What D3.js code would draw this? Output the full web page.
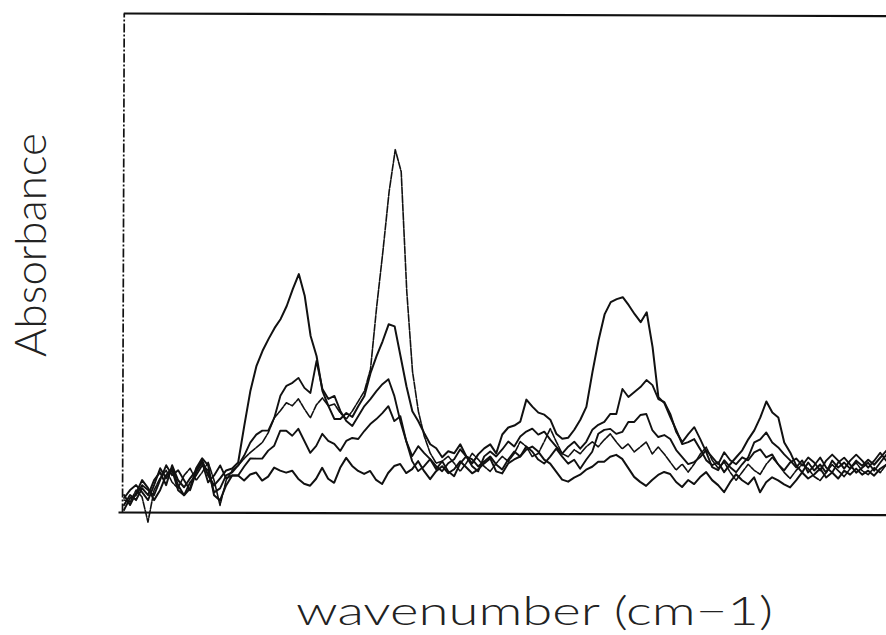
<!DOCTYPE html>
<html>
<head>
<meta charset="utf-8">
<script src="https://cdn.jsdelivr.net/npm/d3@7"></script>
<style>
  html, body { margin: 0; padding: 0; background: #fff; }
  svg { display: block; }
</style>
</head>
<body>
<svg id="chart" width="886" height="635"></svg>
<script>
// Five IR absorbance spectra sampled on a common, evenly spaced grid (128 points).
// Values are in arbitrary absorbance units (0 = baseline, 500 = top of frame).
const pointCount = 128;

// Spectrum with the tall, narrow band
const spectrumA = [
  12,10,22,15,-10,22,34,42,30,24,
  37,44,32,40,50,32,7,32,42,47,
  54,60,65,70,80,95,102,110,107,114,
  104,95,108,115,107,109,100,94,102,112,
  122,144,207,262,322,364,342,222,142,102,
  77,60,50,52,57,50,42,50,60,54,
  47,42,50,57,52,60,72,67,57,60,
  72,85,72,60,57,64,60,67,72,67,
  74,80,72,65,70,62,67,72,60,67,
  60,52,44,50,42,50,60,67,54,46,
  52,42,34,42,50,44,40,50,57,50,
  42,36,44,50,46,38,34,42,50,44,
  38,46,52,44,40,47,42,50
];

// Spectrum with the strongest broad bands
const spectrumB = [
  7,17,12,24,17,32,40,27,47,32,
  25,34,42,52,37,27,34,42,44,50,
  87,122,147,162,174,185,194,207,224,239,
  217,177,157,122,107,94,94,100,96,107,
  117,140,157,172,189,187,157,127,102,92,
  80,69,65,56,62,60,69,57,50,59,
  65,69,60,79,86,88,92,114,107,101,
  99,94,80,75,76,84,94,107,142,174,
  200,212,215,217,209,200,192,202,167,117,
  111,97,84,70,72,75,65,54,49,52,
  42,50,57,64,75,84,97,113,102,97,
  72,62,49,42,52,44,50,42,54,47,
  52,46,54,49,55,50,57,64
];

const spectrumC = [
  14,22,27,20,12,27,44,34,42,22,
  17,30,37,47,42,20,24,37,40,47,
  57,70,78,82,82,95,117,127,130,135,
  125,120,152,124,114,117,102,92,87,97,
  107,114,122,129,134,117,92,72,57,67,
  60,54,47,42,50,54,64,57,47,42,
  57,62,57,64,72,67,77,82,85,79,
  82,74,67,60,67,72,65,72,84,89,
  92,100,100,125,117,122,127,134,129,115,
  112,100,82,72,80,87,75,62,47,44,
  54,47,42,50,57,72,75,82,72,67,
  60,54,47,54,42,49,57,47,42,52,
  57,50,42,47,52,44,52,60
];

const spectrumD = [
  2,14,17,27,22,17,32,47,37,42,
  32,22,40,50,30,37,47,34,37,37,
  46,54,54,54,62,67,82,82,77,84,
  72,60,67,79,72,69,62,72,75,74,
  82,89,94,100,107,92,97,72,52,42,
  47,54,44,52,42,37,50,57,54,47,
  52,57,49,44,54,62,57,67,62,54,
  50,57,65,57,50,54,45,54,62,80,
  84,85,80,82,92,92,99,100,84,77,
  79,75,64,57,50,52,57,64,57,50,
  62,54,50,57,54,62,65,57,60,50,
  44,52,56,49,57,52,44,54,60,54,
  46,54,60,54,47,54,62,54
];

const spectrumE = [
  17,7,19,32,24,12,22,37,44,27,
  17,24,44,54,47,17,12,27,37,37,
  32,38,40,32,36,45,42,40,42,34,
  29,27,34,45,34,30,45,55,47,42,
  39,42,33,29,40,47,49,40,44,52,
  42,34,42,47,40,44,52,46,40,44,
  50,55,42,40,50,54,57,64,67,62,
  54,50,42,34,32,36,39,44,47,52,
  52,57,59,55,46,37,32,28,34,39,
  42,40,32,27,34,30,37,42,34,29,
  22,32,40,34,30,37,22,32,37,34,
  30,27,34,42,36,40,46,37,42,36,
  44,40,46,40,44,39,46,50
];

const spectra = [
  { name: "A", values: spectrumA, dash: "7,1.5", width: 1.6 },
  { name: "B", values: spectrumB, dash: null, width: 2.0 },
  { name: "C", values: spectrumC, dash: null, width: 1.9 },
  { name: "D", values: spectrumD, dash: null, width: 1.9 },
  { name: "E", values: spectrumE, dash: null, width: 2.0 }
];

const yLabel = "Absorbance";
const xLabel = "wavenumber (cm\u22121)";

// Layout
const frame = { left: 122, top: 13, bottom: 512, right: 905 };

const svg = d3.select("#chart");

const x = d3.scaleLinear().domain([0, pointCount - 1]).range([124, 886]);
const y = d3.scaleLinear().domain([0, 500]).range([frame.bottom, frame.top]);

// The plotted area sits very slightly tilted
const plot = svg.append("g")
  .attr("transform", `rotate(0.2, ${frame.left}, ${frame.bottom})`);

// Frame: bottom axis, left axis, top rule (no ticks)
plot.append("g")
  .attr("transform", `translate(0,${frame.bottom})`)
  .call(d3.axisBottom(d3.scaleLinear().domain([0, 1]).range([frame.left - 4, frame.right])).ticks(0).tickSizeOuter(0))
  .call(g => g.select(".domain").attr("stroke", "#111").attr("stroke-width", 2.2));

plot.append("g")
  .attr("transform", `translate(${frame.left},0)`)
  .call(d3.axisLeft(y).ticks(0).tickSizeOuter(0))
  .call(g => g.select(".domain")
    .attr("stroke", "#111")
    .attr("stroke-width", 1.7)
    .attr("stroke-dasharray", "9,2,2,2"));

plot.append("line")
  .attr("x1", frame.left).attr("x2", frame.right)
  .attr("y1", frame.top + 0.5).attr("y2", frame.top + 0.5)
  .attr("stroke", "#111")
  .attr("stroke-width", 2.2);

// Spectra
const line = d3.line()
  .x((d, i) => x(i))
  .y(d => y(d))
  .curve(d3.curveLinear);

plot.append("g")
  .selectAll("path")
  .data(spectra)
  .join("path")
  .attr("d", d => line(d.values))
  .attr("fill", "none")
  .attr("stroke", "#111")
  .attr("stroke-width", d => d.width)
  .attr("stroke-linejoin", "round")
  .attr("stroke-linecap", "round")
  .attr("stroke-dasharray", d => d.dash);

// Axis titles
svg.append("text")
  .attr("transform", "translate(46,245) rotate(-90)")
  .attr("text-anchor", "middle")
  .attr("font-family", "Lato, 'Open Sans', sans-serif")
  .attr("font-weight", 300)
  .attr("font-size", 44)
  .attr("fill", "#222")
  .attr("textLength", 224)
  .attr("lengthAdjust", "spacingAndGlyphs")
  .text(yLabel);

svg.append("text")
  .attr("x", 296)
  .attr("y", 625)
  .attr("font-family", "Lato, 'Open Sans', sans-serif")
  .attr("font-weight", 300)
  .attr("font-size", 40)
  .attr("fill", "#222")
  .attr("textLength", 477)
  .attr("lengthAdjust", "spacingAndGlyphs")
  .text(xLabel);
</script>
</body>
</html>
